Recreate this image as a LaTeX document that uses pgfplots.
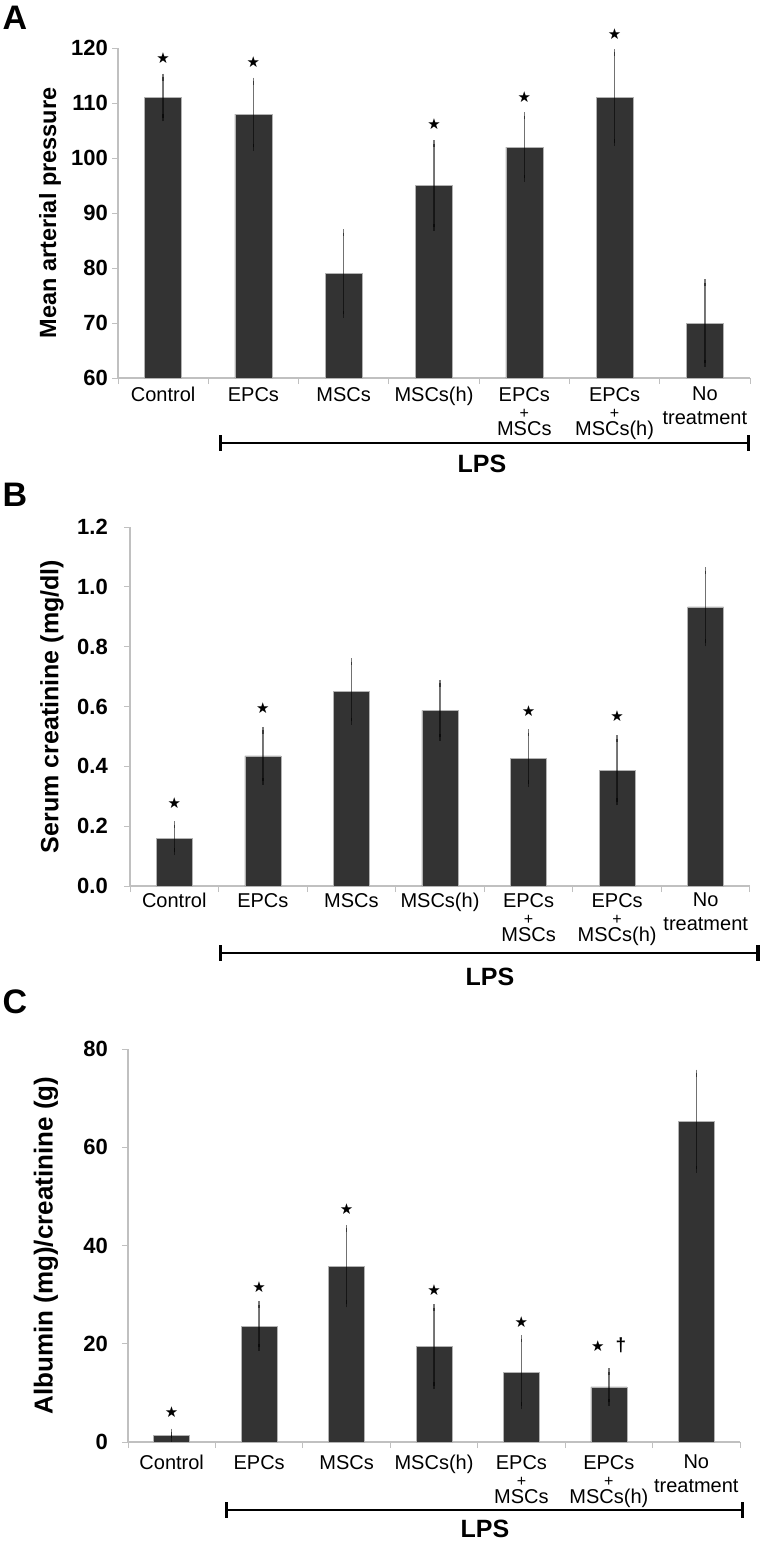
\documentclass[border=0pt]{standalone}
\usepackage{fontspec}
\setmainfont{Liberation Sans}
\newfontfamily\dejavu{DejaVu Sans}
\usepackage{pgfplots}
\usepackage{pgfplotstable}
\pgfplotsset{compat=1.18}
\definecolor{barc}{HTML}{333333}
\definecolor{axc}{HTML}{C0C0C0}
\definecolor{errc}{HTML}{7A7A7A}
\newcommand\catfont{\fontsize{20bp}{17bp}\selectfont}
\newcommand\plusfont{\fontsize{16bp}{17bp}\selectfont}
\newcommand\tickfont{\bfseries\fontsize{22bp}{26bp}\selectfont}
\newcommand\lpsfont{\bfseries\fontsize{25bp}{28bp}\selectfont}
\newcommand\letfont{\bfseries\fontsize{34bp}{38bp}\selectfont}
\newcommand\starfont{\dejavu\fontsize{15bp}{15bp}\selectfont}

\pgfplotstableread{
x y e
0 111 3.7
1 108 6.0
2 79 7.4
3 95 7.6
4 102 5.7
5 111 8.2
6 70 7.3
}\dataA
\pgfplotstableread{
x y e
0 0.16 0.045
1 0.435 0.085
2 0.65 0.10
3 0.587 0.09
4 0.427 0.085
5 0.387 0.106
6 0.933 0.12
}\dataB
\pgfplotstableread{
x y e
0 1.4 0.6
1 23.6 4.3
2 35.8 7.7
3 19.4 7.9
4 14.2 6.8
5 11.2 3.1
6 65.3 9.8
}\dataC

\pgfplotsset{
 mystyle/.style={
  scale only axis, anchor=south west,
  axis x line*=bottom, axis y line*=left,
  axis line style={axc, line width=1.3bp, -},
  xmin=-0.5, xmax=6.5,
  xtick={0,...,6},
  xticklabels={Control, EPCs, MSCs, MSCs(h), {EPCs\\{\plusfont+}\\MSCs}, {EPCs\\{\plusfont+}\\MSCs(h)}, {No\\[7bp]treatment}},
  major x tick style={draw=none},
  minor xtick={-0.5,0.5,...,6.5},
  minor x tick style={axc, line width=1bp},
  minor tick length=6bp,
  major tick length=6bp,
  y tick style={axc, line width=1bp},
  tick align=outside,
  xticklabel style={font=\catfont, align=center, anchor=north, inner sep=0pt},
  yticklabel style={font=\tickfont, anchor=east, inner sep=0pt},
  clip mode=individual,
 },
 mybars/.style={ybar, fill=barc, draw=gray!60, line width=0.5bp,
  error bars/.cd, y dir=both, y explicit,
  error bar style={errc, line width=1.5bp, blend mode=multiply},
  error mark options={errc, line width=1.3bp, mark size=3.5bp}},
}

\begin{document}
\begin{tikzpicture}
\useasboundingbox (0,0) rectangle (761bp,-1541bp);

% ---------- A ----------
\begin{axis}[mystyle, at={(118bp,-378bp)}, width=632bp, height=330bp,
  ymin=60, ymax=120, ytick={60,70,80,90,100,110,120},
  yticklabels={60,70,80,90,100,110,120},
  yticklabel style={xshift=-4bp},
  xticklabel style={yshift=-3bp},
  ylabel={Mean arterial pressure},
  every axis y label/.style={at={([xshift=-68bp]axis description cs:0,0.5)}, rotate=90, anchor=center, font=\bfseries\fontsize{23.5bp}{26bp}\selectfont}]
\addplot[bar width=37bp, mybars] table[x=x, y=y, y error=e] {\dataA};
\node[font=\starfont, yshift=19bp] at (axis cs:0,114.7) {★};
\node[font=\starfont, yshift=19bp] at (axis cs:1,114.0) {★};
\node[font=\starfont, yshift=20bp] at (axis cs:3,102.6) {★};
\node[font=\starfont, yshift=19bp] at (axis cs:4,107.7) {★};
\node[font=\starfont, yshift=18bp] at (axis cs:5,119.2) {★};
\end{axis}

% ---------- B ----------
\begin{axis}[mystyle, at={(130bp,-886bp)}, width=620bp, height=359bp,
  ymin=0, ymax=1.2, ytick={0,0.2,0.4,0.6,0.8,1.0,1.2},
  yticklabels={0.0,0.2,0.4,0.6,0.8,1.0,1.2},
  yticklabel style={xshift=-16bp},
  xticklabel style={yshift=-1bp},
  ylabel={Serum creatinine (mg/dl)},
  every axis y label/.style={at={([xshift=-78bp]axis description cs:0,0.5)}, rotate=90, anchor=center, font=\bfseries\fontsize{25bp}{28bp}\selectfont}]
\addplot[bar width=36bp, mybars] table[x=x, y=y, y error=e] {\dataB};
\node[font=\starfont, yshift=22bp] at (axis cs:0,0.205) {★};
\node[font=\starfont, yshift=22bp] at (axis cs:1,0.52) {★};
\node[font=\starfont, yshift=22bp] at (axis cs:4,0.512) {★};
\node[font=\starfont, yshift=22bp] at (axis cs:5,0.493) {★};
\end{axis}

% ---------- C ----------
\begin{axis}[mystyle, at={(128bp,-1442bp)}, width=612bp, height=393bp,
  ymin=0, ymax=80, ytick={0,20,40,60,80},
  yticklabels={0,20,40,60,80},
  yticklabel style={xshift=-14bp},
  xticklabel style={yshift=-7bp},
  ylabel={Albumin (mg)/creatinine (g)},
  every axis y label/.style={at={([xshift=-82bp]axis description cs:0,0.5)}, rotate=90, anchor=center, font=\bfseries\fontsize{26bp}{29bp}\selectfont}]
\addplot[bar width=36bp, mybars] table[x=x, y=y, y error=e] {\dataC};
\node[font=\starfont, yshift=20bp] at (axis cs:0,2.0) {★};
\node[font=\starfont, yshift=18bp] at (axis cs:1,27.9) {★};
\node[font=\starfont, yshift=19bp] at (axis cs:2,43.5) {★};
\node[font=\starfont, yshift=18bp] at (axis cs:3,27.3) {★};
\node[font=\starfont, yshift=17bp] at (axis cs:4,21.0) {★};
\node[font=\starfont, yshift=26bp, xshift=-11bp] at (axis cs:5,14.3) {★};
\node[font=\bfseries\fontsize{19bp}{19bp}\selectfont, yshift=27bp, xshift=12bp] at (axis cs:5,14.3) {†};
\end{axis}

% ---------- brackets ----------
\draw[line width=2.6bp] (220bp,-443bp) -- (748bp,-443bp);
\draw[line width=3bp] (220bp,-435bp) -- (220bp,-451bp);
\draw[line width=3bp] (748bp,-435bp) -- (748bp,-451bp);
\node[font=\lpsfont] at (482bp,-464bp) {LPS};

\draw[line width=2.8bp] (220bp,-953bp) -- (758bp,-953bp);
\draw[line width=3bp] (220bp,-945bp) -- (220bp,-961bp);
\draw[line width=3.5bp] (758bp,-945bp) -- (758bp,-961bp);
\node[font=\lpsfont] at (490bp,-977bp) {LPS};

\draw[line width=2.6bp] (226bp,-1510bp) -- (742bp,-1510bp);
\draw[line width=3bp] (226bp,-1502bp) -- (226bp,-1518bp);
\draw[line width=3bp] (742bp,-1502bp) -- (742bp,-1518bp);
\node[font=\lpsfont] at (485bp,-1529bp) {LPS};

% ---------- panel letters ----------
\node[font=\letfont] at (15bp,-18bp) {A};
\node[font=\letfont] at (15bp,-495bp) {B};
\node[font=\letfont] at (15bp,-1002bp) {C};
\end{tikzpicture}
\end{document}
